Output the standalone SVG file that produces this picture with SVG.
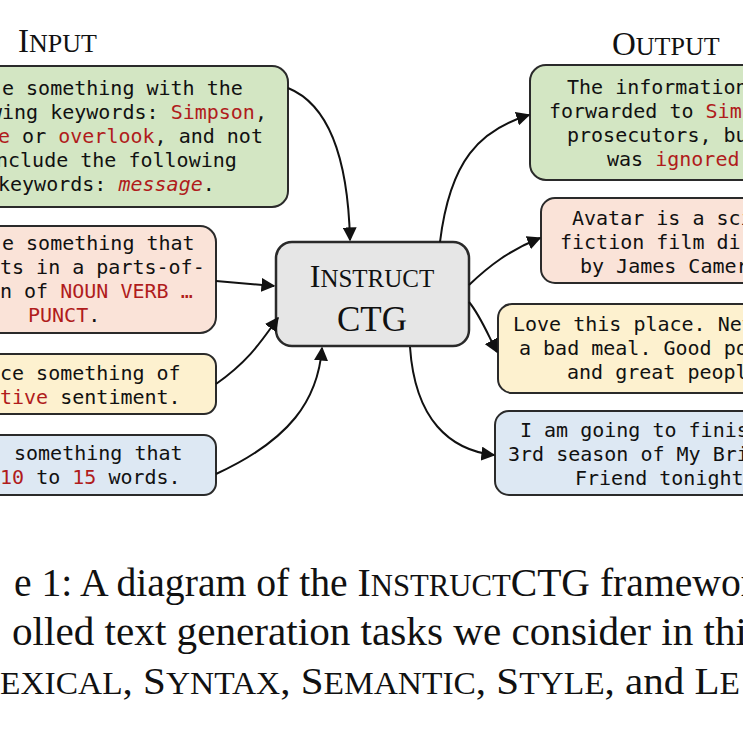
<svg xmlns="http://www.w3.org/2000/svg" width="743" height="742" viewBox="0 0 743 742">
<style>
.b{stroke:#2a2a2a;stroke-width:2}
.g{fill:#d3e6c3}.p{fill:#fae3d8}.y{fill:#fdf1cf}.u{fill:#dde8f3}
.m{font-family:"DejaVu Sans Mono",monospace;font-size:20px;fill:#111}
.r{fill:#b01c1c}
.s{font-family:"Liberation Serif",serif;fill:#111}
.c{fill:none;stroke:#111;stroke-width:2}
</style>
<defs><marker id="a" viewBox="0 0 10 10" refX="9" refY="5" markerWidth="7" markerHeight="7" orient="auto"><path d="M0,0L10,5L0,10z" fill="#111"/></marker></defs>
<rect width="743" height="742" fill="#fff"/>
<text class="s" x="18" y="52" font-size="33">I<tspan font-size="26">NPUT</tspan></text>
<text class="s" x="612" y="55" font-size="33">O<tspan font-size="26">UTPUT</tspan></text>
<g id="in1"><rect class="b g" x="-20" y="66" width="308" height="141" rx="16"/>
<text class="m" x="2" y="95">e something with the</text>
<text class="m" x="-10" y="119">wing keywords: <tspan class="r">Simpson</tspan>,</text>
<text class="m" x="-2" y="143"><tspan class="r">e</tspan> or <tspan class="r">overlook</tspan>, and not</text>
<text class="m" x="-4" y="167">nclude the following</text>
<text class="m" x="-2" y="191">keywords: <tspan class="r" font-style="italic">message</tspan>.</text></g>
<g id="in2"><rect class="b p" x="-20" y="226" width="236" height="107" rx="16"/>
<text class="m" x="2" y="250">e something that</text>
<text class="m" x="0" y="274">ts in a parts-of-</text>
<text class="m" x="0" y="298">n of <tspan class="r">NOUN VERB …</tspan></text>
<text class="m" x="28" y="322"><tspan class="r">PUNCT</tspan>.</text></g>
<g id="in3"><rect class="b y" x="-20" y="354" width="236" height="60" rx="12"/>
<text class="m" x="0" y="380">ce something of</text>
<text class="m" x="0" y="404"><tspan class="r">tive</tspan> sentiment.</text></g>
<g id="in4"><rect class="b u" x="-20" y="435" width="236" height="60" rx="12"/>
<text class="m" x="14" y="460">something that</text>
<text class="m" x="0" y="484"><tspan class="r">10</tspan> to <tspan class="r">15</tspan> words.</text></g>
<g id="center"><rect x="276" y="242" width="193" height="104" rx="16" fill="#e6e6e6" stroke="#2a2a2a" stroke-width="2.5"/>
<text class="s" x="372" y="287" font-size="32" text-anchor="middle">I<tspan font-size="25">NSTRUCT</tspan></text>
<text class="s" x="372" y="331" font-size="35" text-anchor="middle">CTG</text></g>
<g id="out1"><rect class="b g" x="530" y="65" width="240" height="115" rx="16"/>
<text class="m" x="567" y="94">The information</text>
<text class="m" x="549" y="118">forwarded to <tspan class="r">Simpson</tspan></text>
<text class="m" x="567" y="142">prosecutors, but</text>
<text class="m" x="607" y="166">was <tspan class="r">ignored</tspan></text></g>
<g id="out2"><rect class="b p" x="541" y="198" width="230" height="85" rx="14"/>
<text class="m" x="572" y="225">Avatar is a sci</text>
<text class="m" x="560" y="249">fiction film dir</text>
<text class="m" x="580" y="273">by James Cameron</text></g>
<g id="out3"><rect class="b y" x="498" y="304" width="270" height="89" rx="14"/>
<text class="m" x="513" y="331">Love this place. Never</text>
<text class="m" x="519" y="355">a bad meal. Good po</text>
<text class="m" x="567" y="379">and great people</text></g>
<g id="out4"><rect class="b u" x="495" y="411" width="270" height="84" rx="14"/>
<text class="m" x="520" y="437">I am going to finish</text>
<text class="m" x="508" y="461">3rd season of My Bri</text>
<text class="m" x="575" y="485">Friend tonight</text></g>
<g id="connectors">
<path class="c" marker-end="url(#a)" d="M288,88 C330,105 348,160 350,240"/>
<path class="c" marker-end="url(#a)" d="M216,281 L274,286"/>
<path class="c" marker-end="url(#a)" d="M216,384 C250,360 262,340 278,318"/>
<path class="c" marker-end="url(#a)" d="M216,474 C290,440 318,400 322,348"/>
<path class="c" marker-end="url(#a)" d="M440,242 C450,160 480,130 529,115"/>
<path class="c" marker-end="url(#a)" d="M469,285 C490,265 510,250 540,238"/>
<path class="c" marker-end="url(#a)" d="M469,302 C480,315 488,335 497,352"/>
<path class="c" marker-end="url(#a)" d="M410,347 C415,420 450,450 494,455"/>
</g>
<text class="s" x="14" y="596" font-size="40" textLength="740" lengthAdjust="spacingAndGlyphs">e 1: A diagram of the I<tspan font-size="31">NSTRUCT</tspan>CTG framewor</text>
<text class="s" x="12" y="645" font-size="40" textLength="735" lengthAdjust="spacingAndGlyphs">olled text generation tasks we consider in thi</text>
<text class="s" x="0" y="694" font-size="38" textLength="740" lengthAdjust="spacingAndGlyphs"><tspan font-size="31">EXICAL</tspan>, S<tspan font-size="31">YNTAX</tspan>, S<tspan font-size="31">EMANTIC</tspan>, S<tspan font-size="31">TYLE</tspan>, and L<tspan font-size="31">E</tspan></text>
</svg>
